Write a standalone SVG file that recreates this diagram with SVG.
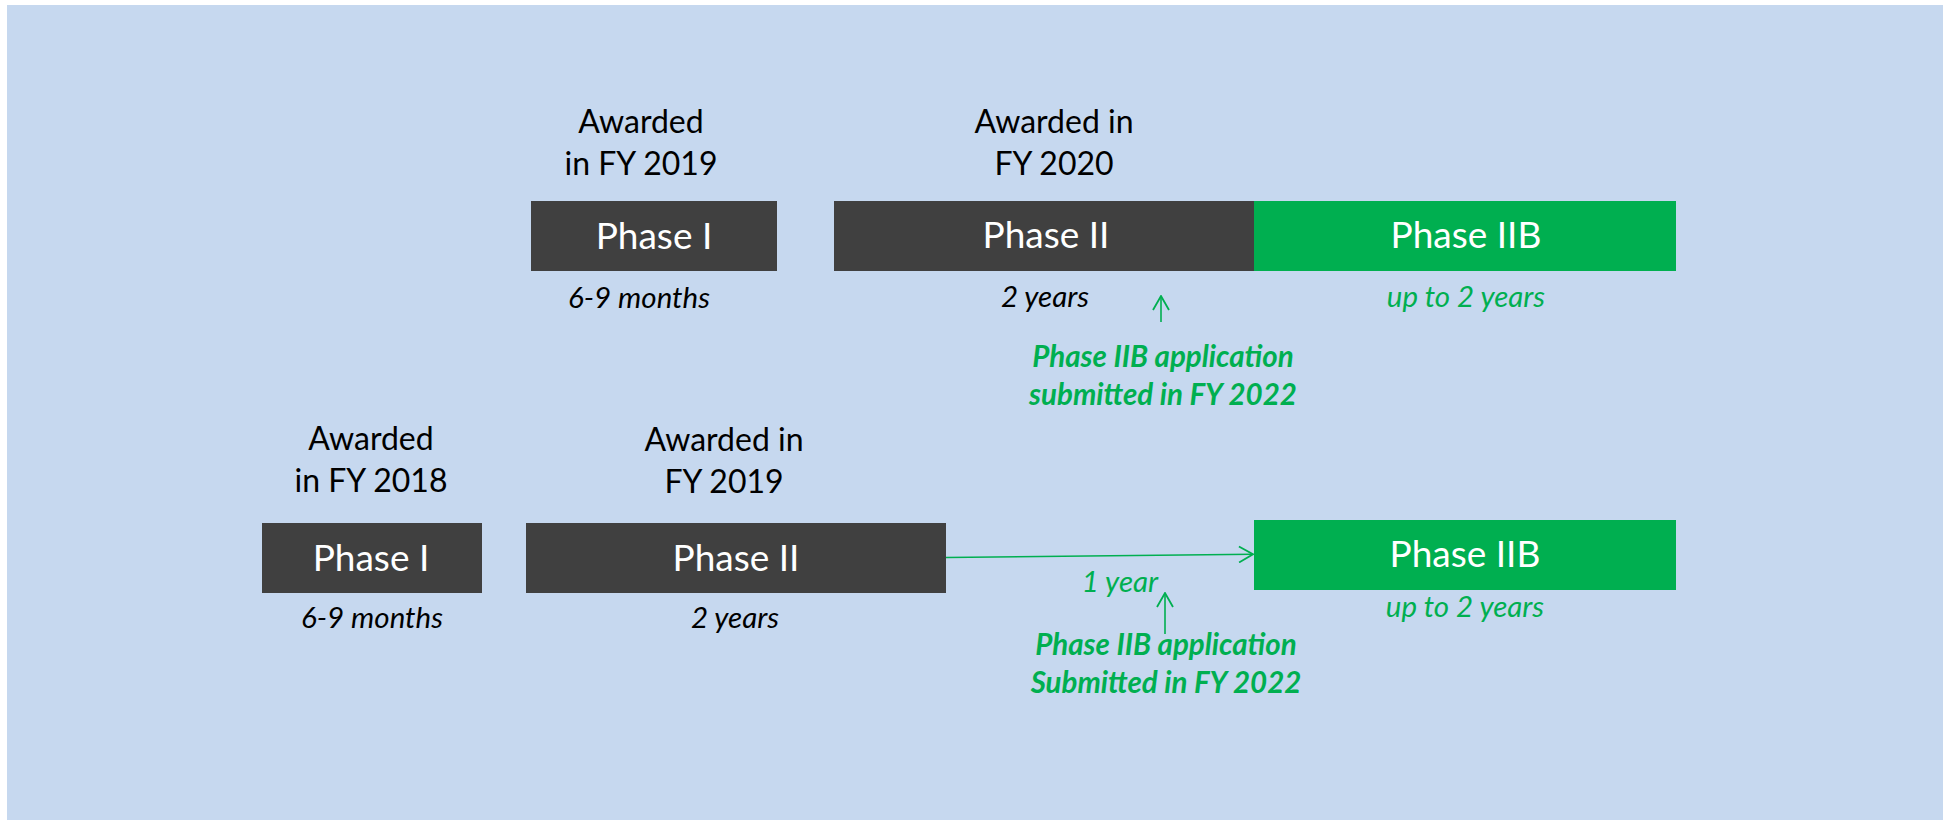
<svg xmlns="http://www.w3.org/2000/svg" width="1947" height="820" viewBox="0 0 1947 820">
<style>
.bg{fill:#C6D8EF}
.dark{fill:#404040}
.green{fill:#00AF50}
text{font-family:Lato,"Open Sans","Liberation Sans",sans-serif;text-anchor:middle}
.aw{font-size:32px;fill:#000}
.box{font-size:37px;fill:#fff}
.dur{font-size:29.5px;font-style:italic;fill:#000}
.gdur{font-size:29.5px;font-style:italic;fill:#00AF50}
.note{font-size:29.5px;font-style:italic;font-weight:bold;fill:#00AF50}
.conn{stroke:#00AF50;stroke-width:1.6;fill:none}
</style>
<defs>
<marker id="arr" viewBox="0 0 16 18" refX="15" refY="9" markerWidth="16" markerHeight="18" markerUnits="userSpaceOnUse" orient="auto">
<path d="M1,1 L15,9 L1,17" fill="none" stroke="#00AF50" stroke-width="1.8"/>
</marker>
</defs>
<rect class="bg" x="7" y="5" width="1936" height="815"/>

<g id="top-phase1">
<text class="aw" x="641" y="133">Awarded</text>
<text class="aw" x="641" y="175">in FY 2019</text>
<rect class="dark" x="531" y="201" width="246" height="70"/>
<text class="box" x="654" y="249">Phase I</text>
<text class="dur" x="639" y="308">6-9 months</text>
</g>

<g id="top-phase2">
<text class="aw" x="1054" y="133">Awarded in</text>
<text class="aw" x="1054" y="175">FY 2020</text>
<rect class="dark" x="834" y="201" width="421" height="70"/>
<text class="box" x="1046" y="248">Phase II</text>
<text class="dur" x="1045" y="307">2 years</text>
</g>

<g id="top-phase2b">
<rect class="green" x="1254" y="201" width="422" height="70"/>
<text class="box" x="1466" y="248">Phase IIB</text>
<text class="gdur" x="1466" y="307">up to 2 years</text>
</g>

<g id="top-note">
<text class="note" x="1163" y="367">Phase IIB application</text>
<text class="note" x="1163" y="405">submitted in FY 2022</text>
</g>

<g id="bottom-phase1">
<text class="aw" x="371" y="450">Awarded</text>
<text class="aw" x="371" y="492">in FY 2018</text>
<rect class="dark" x="262" y="523" width="220" height="70"/>
<text class="box" x="371" y="571">Phase I</text>
<text class="dur" x="372" y="628">6-9 months</text>
</g>

<g id="bottom-phase2">
<text class="aw" x="724" y="451">Awarded in</text>
<text class="aw" x="724" y="493">FY 2019</text>
<rect class="dark" x="526" y="523" width="420" height="70"/>
<text class="box" x="736" y="571">Phase II</text>
<text class="dur" x="735" y="628">2 years</text>
</g>

<g id="bottom-phase2b">
<rect class="green" x="1254" y="520" width="422" height="70"/>
<text class="box" x="1465" y="567">Phase IIB</text>
<text class="gdur" x="1465" y="617">up to 2 years</text>
</g>

<g id="bottom-gap">
<text class="gdur" x="1120" y="592">1 year</text>
</g>

<g id="bottom-note">
<text class="note" x="1166" y="655">Phase IIB application</text>
<text class="note" x="1166" y="693">Submitted in FY 2022</text>
</g>

<g id="connectors">
<line class="conn" x1="1161" y1="322" x2="1161" y2="296" marker-end="url(#arr)"/>
<line class="conn" x1="946" y1="557.5" x2="1253" y2="554.3" marker-end="url(#arr)"/>
<line class="conn" x1="1165" y1="634" x2="1165" y2="593" marker-end="url(#arr)"/>
</g>
</svg>
